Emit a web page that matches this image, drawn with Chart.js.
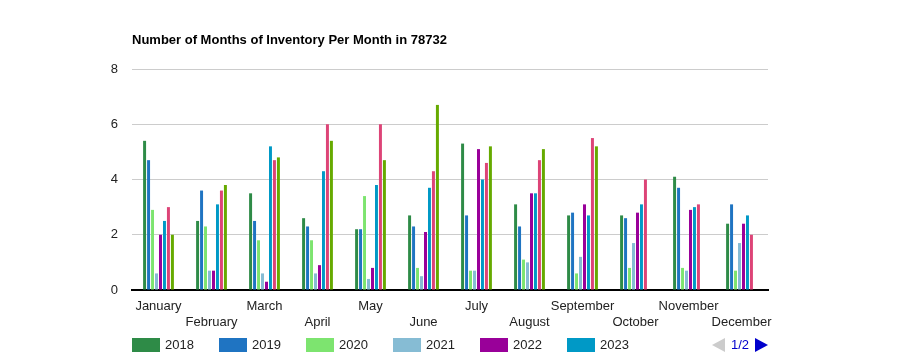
<!DOCTYPE html>
<html>
<head>
<meta charset="utf-8">
<script src="https://cdn.jsdelivr.net/npm/chart.js@4.4.1/dist/chart.umd.min.js"></script>
<style>
  html, body { margin: 0; padding: 0; background: #fff; }
  #wrap { position: relative; width: 900px; height: 360px; font-family: Arial, "Liberation Sans", sans-serif; }
  #title { position: absolute; left: 132px; top: 32px; font-size: 13px; font-weight: bold; color: #000; }
  #legend { position: absolute; left: 132px; top: 337px; height: 16px; width: 640px; font-size: 13px; color: #222; }
  .item { position: absolute; top: 0; height: 16px; line-height: 16px; }
  .sw { position: absolute; left: 0; top: 1px; width: 28px; height: 14px; }
  .lbl { position: absolute; left: 33px; top: 0; white-space: nowrap; }
  #pager { position: absolute; left: 580px; top: 0; height: 16px; line-height: 16px; }
  .tri-l { position: absolute; left: 0; top: 1px; width: 0; height: 0; border-top: 7px solid transparent; border-bottom: 7px solid transparent; border-right: 13px solid #ccc; }
  .tri-r { position: absolute; left: 43px; top: 1px; width: 0; height: 0; border-top: 7px solid transparent; border-bottom: 7px solid transparent; border-left: 13px solid #0000cc; }
  .pg { position: absolute; left: 19px; top: 0; color: #0000cc; }
</style>
</head>
<body>
<div id="wrap">
  <canvas id="chart" width="900" height="360"></canvas>
  <div id="title">Number of Months of Inventory Per Month in 78732</div>
  <div id="legend"></div>
</div>
<script>
// months of inventory, per year
const months = ['January', 'February', 'March', 'April', 'May', 'June', 'July', 'August', 'September', 'October', 'November', 'December'];
const years = ['2018', '2019', '2020', '2021', '2022', '2023', '2024', '2025'];
const colors = ['#2e8b47', '#1f74c2', '#7de46f', '#86bcd4', '#990099', '#0099c6', '#dd4477', '#66aa00'];

const v2018 = [5.4, 2.5, 3.5, 2.6, 2.2, 2.7, 5.3, 3.1, 2.7, 2.7, 4.1, 2.4];
const v2019 = [4.7, 3.6, 2.5, 2.3, 2.2, 2.3, 2.7, 2.3, 2.8, 2.6, 3.7, 3.1];
const v2020 = [2.9, 2.3, 1.8, 1.8, 3.4, 0.8, 0.7, 1.1, 0.6, 0.8, 0.8, 0.7];
const v2021 = [0.6, 0.7, 0.6, 0.6, 0.4, 0.5, 0.7, 1.0, 1.2, 1.7, 0.7, 1.7];
const v2022 = [2.0, 0.7, 0.3, 0.9, 0.8, 2.1, 5.1, 3.5, 3.1, 2.8, 2.9, 2.4];
const v2023 = [2.5, 3.1, 5.2, 4.3, 3.8, 3.7, 4.0, 3.5, 2.7, 3.1, 3.0, 2.7];
const v2024 = [3.0, 3.6, 4.7, 6.0, 6.0, 4.3, 4.6, 4.7, 5.5, 4.0, 3.1, 2.0];
const v2025 = [2.0, 3.8, 4.8, 5.4, 4.7, 6.7, 5.2, 5.1, 5.2, null, null, null];

const yTicks = [0, 2, 4, 6, 8];
const legendPageSize = 6;

const series = [v2018, v2019, v2020, v2021, v2022, v2023, v2024, v2025];

const datasets = series.map((data, i) => ({
  label: years[i],
  data,
  backgroundColor: colors[i],
  borderWidth: 0,
  categoryPercentage: 0.6,
  barPercentage: 0.75
}));

// html legend, first page only (like the paged original)
const legendEl = document.getElementById('legend');
years.slice(0, legendPageSize).forEach((y, i) => {
  const it = document.createElement('div');
  it.className = 'item';
  it.style.left = (i * 87) + 'px';
  it.innerHTML = `<div class="sw" style="background:${colors[i]}"></div><span class="lbl">${y}</span>`;
  legendEl.appendChild(it);
});
const pager = document.createElement('div');
pager.id = 'pager';
pager.innerHTML = '<div class="tri-l"></div><span class="pg">1/' + Math.ceil(years.length / legendPageSize) + '</span><div class="tri-r"></div>';
legendEl.appendChild(pager);

const ctx = document.getElementById('chart').getContext('2d');
new Chart(ctx, {
  type: 'bar',
  data: { labels: months, datasets },
  options: {
    responsive: false,
    animation: false,
    layout: { padding: { left: 0, right: 132, top: 69, bottom: 30 } },
    plugins: {
      legend: { display: false },
      tooltip: { enabled: false },
      title: { display: false }
    },
    scales: {
      x: {
        grid: { display: false, drawTicks: false },
        border: { display: true, color: '#000', width: 2 },
        ticks: {
          autoSkip: false,
          maxRotation: 0,
          minRotation: 0,
          padding: 8,
          color: '#222',
          font: { family: 'Arial, "Liberation Sans", sans-serif', size: 13, lineHeight: 1.25 },
          // alternate rows like the original
          callback: function (value, index) {
            return index % 2 ? ['', months[index]] : months[index];
          }
        },
        afterFit: function (scale) { scale.height = 40; }
      },
      y: {
        min: 0,
        max: 8,
        afterBuildTicks: function (scale) {
          scale.ticks = yTicks.map(v => ({ value: v }));
        },
        grid: { color: '#cccccc', lineWidth: 1, drawTicks: false },
        border: { display: false },
        ticks: {
          padding: 14,
          color: '#222',
          font: { family: 'Arial, "Liberation Sans", sans-serif', size: 13 }
        },
        afterFit: function (scale) { scale.width = 132; }
      }
    }
  }
});
</script>
</body>
</html>
